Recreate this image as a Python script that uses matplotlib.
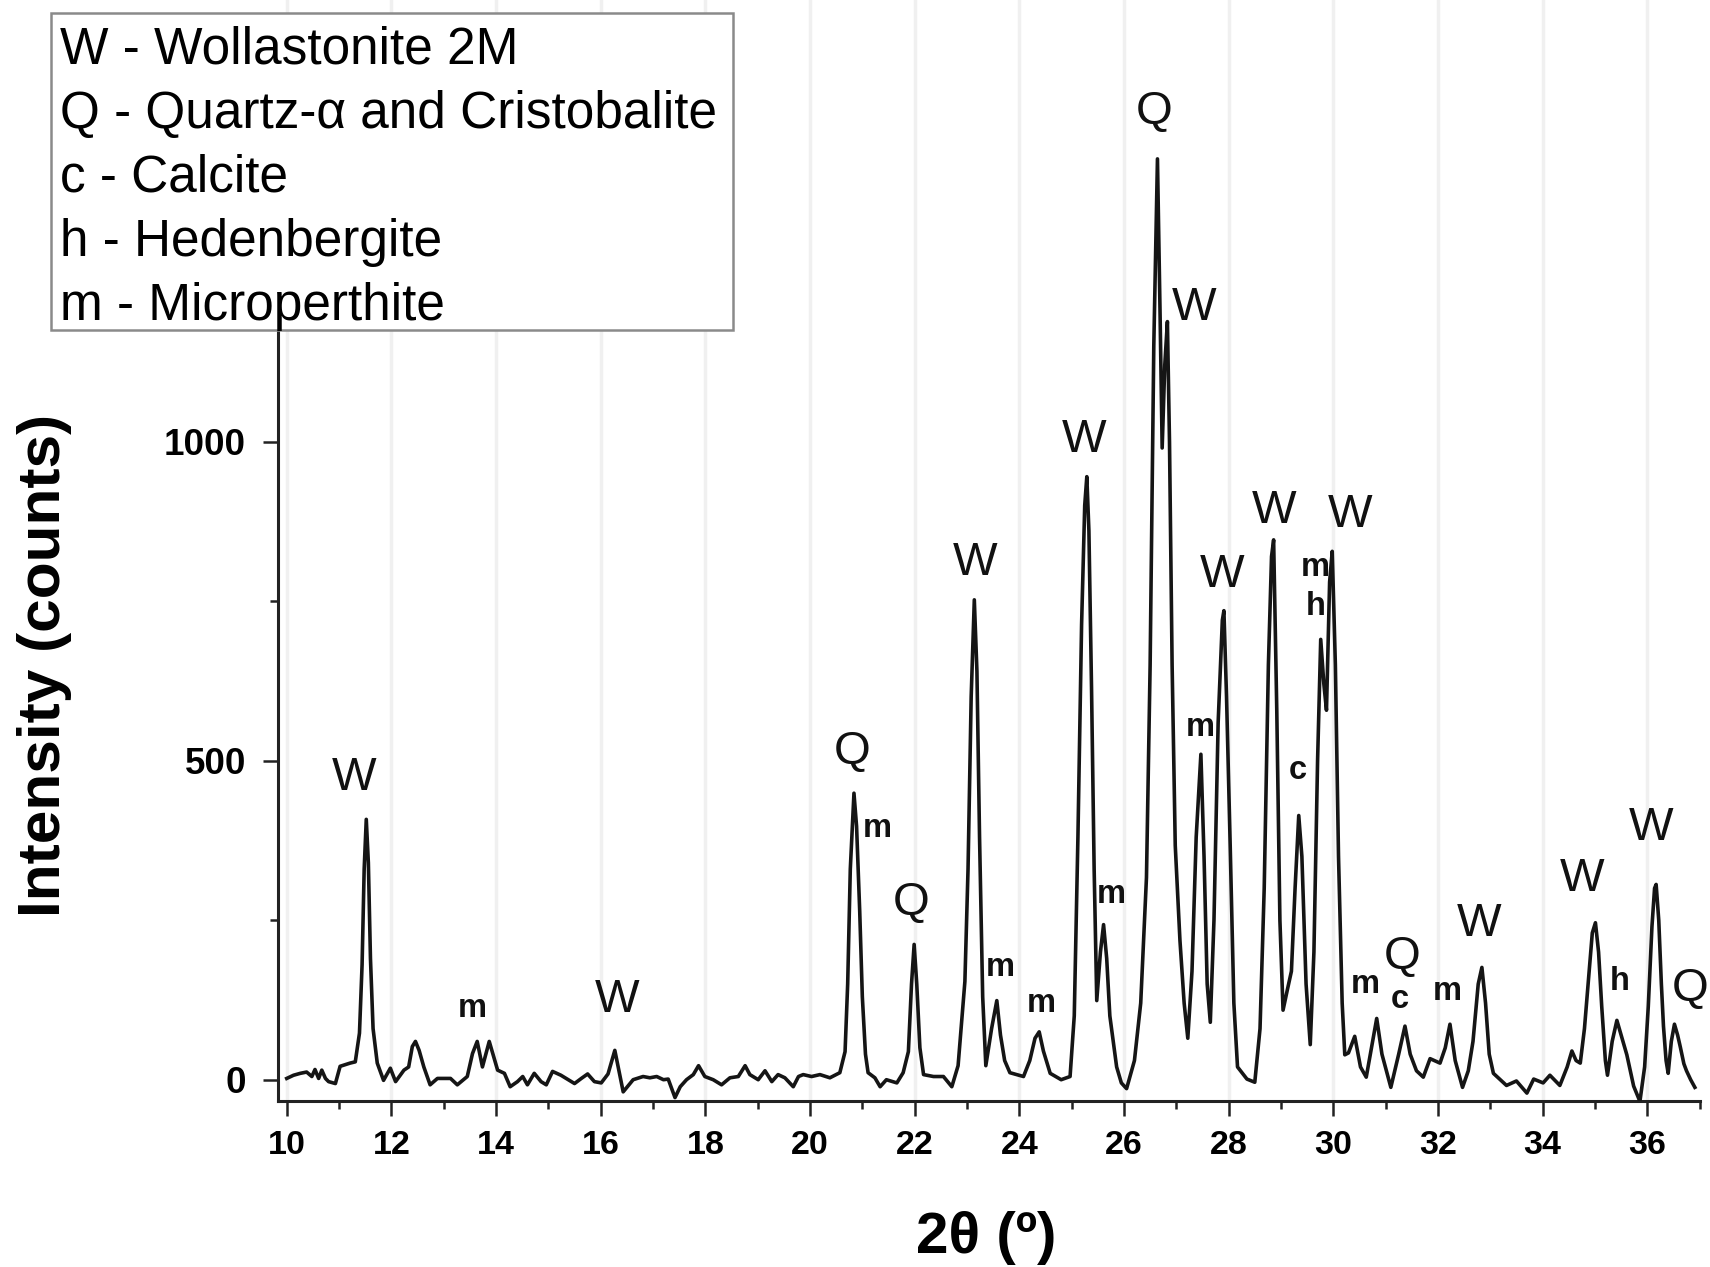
import matplotlib
matplotlib.use('Agg')
import matplotlib.pyplot as plt
from matplotlib.patches import Rectangle

plt.rcParams['font.family'] = ['Liberation Sans', 'DejaVu Sans']

# diffractogram
two_theta = [10.00, 10.13, 10.26, 10.38, 10.48, 10.54, 10.61, 10.67, 10.74, 10.80,
             10.93, 11.02, 11.21, 11.31, 11.39, 11.44, 11.48, 11.52, 11.56, 11.60,
             11.65, 11.73, 11.85, 11.98, 12.08, 12.24, 12.33, 12.40, 12.46, 12.53,
             12.62, 12.74, 12.88, 13.13, 13.26, 13.45, 13.55, 13.64, 13.74, 13.87,
             14.03, 14.16, 14.27, 14.41, 14.51, 14.60, 14.73, 14.86, 14.96, 15.08,
             15.24, 15.40, 15.50, 15.63, 15.75, 15.88, 16.01, 16.14, 16.27, 16.43,
             16.62, 16.81, 16.94, 17.07, 17.20, 17.29, 17.42, 17.52, 17.64, 17.77,
             17.87, 17.99, 18.15, 18.31, 18.47, 18.63, 18.76, 18.85, 19.01, 19.14,
             19.27, 19.39, 19.52, 19.68, 19.78, 19.87, 20.03, 20.19, 20.38, 20.57,
             20.67, 20.72, 20.77, 20.84, 20.89, 20.95, 21.00, 21.06, 21.11, 21.24,
             21.34, 21.46, 21.66, 21.78, 21.88, 21.94, 21.99, 22.04, 22.10, 22.17,
             22.36, 22.55, 22.71, 22.83, 22.96, 23.02, 23.08, 23.14, 23.19, 23.24,
             23.30, 23.36, 23.47, 23.57, 23.64, 23.72, 23.82, 24.08, 24.20, 24.30,
             24.38, 24.46, 24.59, 24.80, 24.97, 25.05, 25.12, 25.19, 25.25, 25.29,
             25.33, 25.38, 25.43, 25.48, 25.55, 25.61, 25.67, 25.73, 25.86, 25.95,
             26.05, 26.20, 26.32, 26.43, 26.50, 26.57, 26.64, 26.69, 26.73, 26.78,
             26.83, 26.87, 26.92, 26.98, 27.07, 27.15, 27.22, 27.30, 27.38, 27.47,
             27.53, 27.59, 27.65, 27.72, 27.80, 27.88, 27.91, 27.96, 28.03, 28.10,
             28.17, 28.35, 28.50, 28.60, 28.68, 28.76, 28.82, 28.86, 28.92, 28.98,
             29.04, 29.12, 29.20, 29.27, 29.34, 29.40, 29.48, 29.56, 29.63, 29.70,
             29.76, 29.82, 29.87, 29.93, 29.98, 30.04, 30.10, 30.17, 30.22, 30.29,
             30.41, 30.52, 30.63, 30.73, 30.83, 30.93, 31.10, 31.25, 31.37, 31.47,
             31.59, 31.72, 31.85, 32.04, 32.14, 32.23, 32.33, 32.47, 32.58, 32.67,
             32.77, 32.84, 32.91, 32.98, 33.06, 33.31, 33.50, 33.70, 33.83, 34.01,
             34.14, 34.33, 34.47, 34.56, 34.64, 34.72, 34.80, 34.88, 34.95, 35.01,
             35.07, 35.13, 35.20, 35.24, 35.33, 35.42, 35.50, 35.61, 35.74, 35.86,
             35.95, 36.02, 36.09, 36.14, 36.17, 36.22, 36.27, 36.31, 36.36, 36.40,
             36.46, 36.52, 36.58, 36.63, 36.70, 36.75, 36.83, 36.91]
counts = [2, 7, 10, 12, 5, 16, 2, 15, 2, -3,
          -6, 21, 26, 28, 73, 180, 330, 408, 340, 190,
          80, 26, -1, 18, -3, 15, 20, 52, 60, 46,
          20, -8, 2, 2, -8, 5, 41, 60, 20, 60,
          15, 10, -11, -3, 5, -8, 10, -3, -8, 13,
          7, -1, -6, 2, 9, -3, -5, 9, 46, -19,
          0, 5, 3, 5, 0, 1, -28, -11, 0, 8,
          22, 5, 0, -8, 3, 5, 22, 8, 0, 14,
          -3, 8, 3, -11, 5, 8, 5, 8, 3, 11,
          44, 150, 330, 449, 397, 264, 130, 40, 11, 3,
          -11, 0, -5, 11, 44, 150, 212, 150, 50, 8,
          5, 5, -11, 22, 154, 330, 600, 752, 640, 380,
          130, 22, 80, 124, 70, 30, 11, 5, 30, 65,
          75, 45, 10, 0, 5, 100, 380, 713, 900, 945,
          860, 614, 330, 124, 200, 243, 190, 100, 20, -5,
          -14, 30, 120, 317, 650, 1150, 1443, 1200, 990, 1120,
          1188, 1000, 650, 367, 218, 120, 65, 170, 380, 510,
          350, 150, 90, 250, 560, 720, 735, 600, 367, 120,
          20, 1, -4, 80, 300, 650, 820, 846, 580, 250,
          109, 140, 170, 300, 414, 350, 150, 55, 200, 500,
          690, 620, 579, 780, 828, 650, 350, 120, 39, 42,
          68, 20, 4, 50, 96, 40, -12, 40, 84, 40,
          14, 4, 33, 26, 50, 87, 30, -12, 14, 60,
          150, 176, 120, 40, 10, -9, -2, -21, 1, -5,
          7, -9, 20, 45, 30, 26, 80, 160, 230, 246,
          200, 115, 30, 7, 60, 93, 70, 39, -10, -34,
          20, 115, 240, 300, 306, 250, 150, 84, 30, 10,
          60, 87, 70, 52, 25, 14, 0, -12]

# phase labels over the peaks
peak_text = ['W', 'm', 'W', 'Q', 'm', 'Q', 'W', 'm', 'm', 'W', 'm', 'Q', 'W', 'm',
             'W', 'W', 'm', 'h', 'W', 'c', 'm', 'Q', 'c', 'm', 'W', 'W', 'h', 'W', 'Q']
peak_x = [11.29, 13.54, 16.32, 20.80, 21.28, 21.94, 23.15, 23.63, 24.42, 25.24,
          25.76, 26.57, 27.34, 27.45, 27.88, 28.86, 29.66, 29.66, 30.32, 29.32,
          30.61, 31.32, 31.28, 32.18, 32.78, 34.76, 35.47, 36.07, 36.82]
peak_y = [473, 111, 125, 513, 393, 277, 810, 176, 120, 1003,
          291, 1516, 1210, 552, 791, 892, 802, 742, 885, 485,
          149, 192, 126, 138, 244, 315, 154, 395, 142]

legend_lines = ['W - Wollastonite 2M', 'Q - Quartz-α and Cristobalite', 'c - Calcite',
                'h - Hedenbergite', 'm - Microperthite']

fig = plt.figure(figsize=(17.1, 12.67), dpi=100)
ax = fig.add_axes([0.1626, 0.131, 0.8313, 0.869])

ax.plot(two_theta, counts, color='#151515', lw=2.6, zorder=3)

for t, x, y in zip(peak_text, peak_x, peak_y):
    if t.isupper():
        ax.text(x, y, t, fontsize=34, ha='center', va='center', color='#111111')
    else:
        ax.text(x, y, t, fontsize=23.5, fontweight='bold', ha='center', va='center',
                color='#111111')

ax.set_xlim(9.834, 37.0)
ax.set_ylim(-33.4, 1692)
ax.set_xticks(range(10, 37, 2))
ax.set_xticks(range(10, 38, 1), minor=True)
ax.set_yticks([0, 500, 1000])
ax.set_yticks([250, 750, 1250], minor=True)

ax.grid(axis='x', which='major', color='#f0f0f0', lw=2.5, zorder=0)

for side in ['top', 'right']:
    ax.spines[side].set_visible(False)
for side in ['left', 'bottom']:
    ax.spines[side].set_linewidth(2.2)
    ax.spines[side].set_color('#222222')
# spine ends under the key box
ax.spines['left'].set_bounds(-33.4, 1300)

ax.tick_params(which='major', direction='out', length=11, width=1.8, color='#222222',
               labelsize=24.5, pad=10)
ax.tick_params(axis='y', which='major', labelsize=26.5, pad=12)
ax.tick_params(which='minor', direction='out', length=6, width=1.8, color='#222222')
for lab in ax.get_xticklabels() + ax.get_yticklabels():
    lab.set_fontweight('bold')

fig.text(44 / 1710, 1 - 665 / 1267, 'Intensity (counts)', rotation=90, fontsize=43.5,
         fontweight='bold', ha='center', va='center')
fig.text(986 / 1710, 1 - 1238 / 1267, '2θ (º)', fontsize=42, fontweight='bold',
         ha='center', va='center')

# key box drawn on the figure so it covers the y spine
fig.patches.append(Rectangle((51 / 1710, 1 - 330 / 1267), 682 / 1710, 317 / 1267,
                             transform=fig.transFigure, facecolor='white',
                             edgecolor='#8a8a8a', lw=1.8, zorder=4))
for i, line in enumerate(legend_lines):
    fig.text(60 / 1710, 1 - (64 + 64 * i) / 1267, line, fontsize=37, ha='left',
             va='baseline', zorder=5)

fig.savefig('out.png', dpi=100)
